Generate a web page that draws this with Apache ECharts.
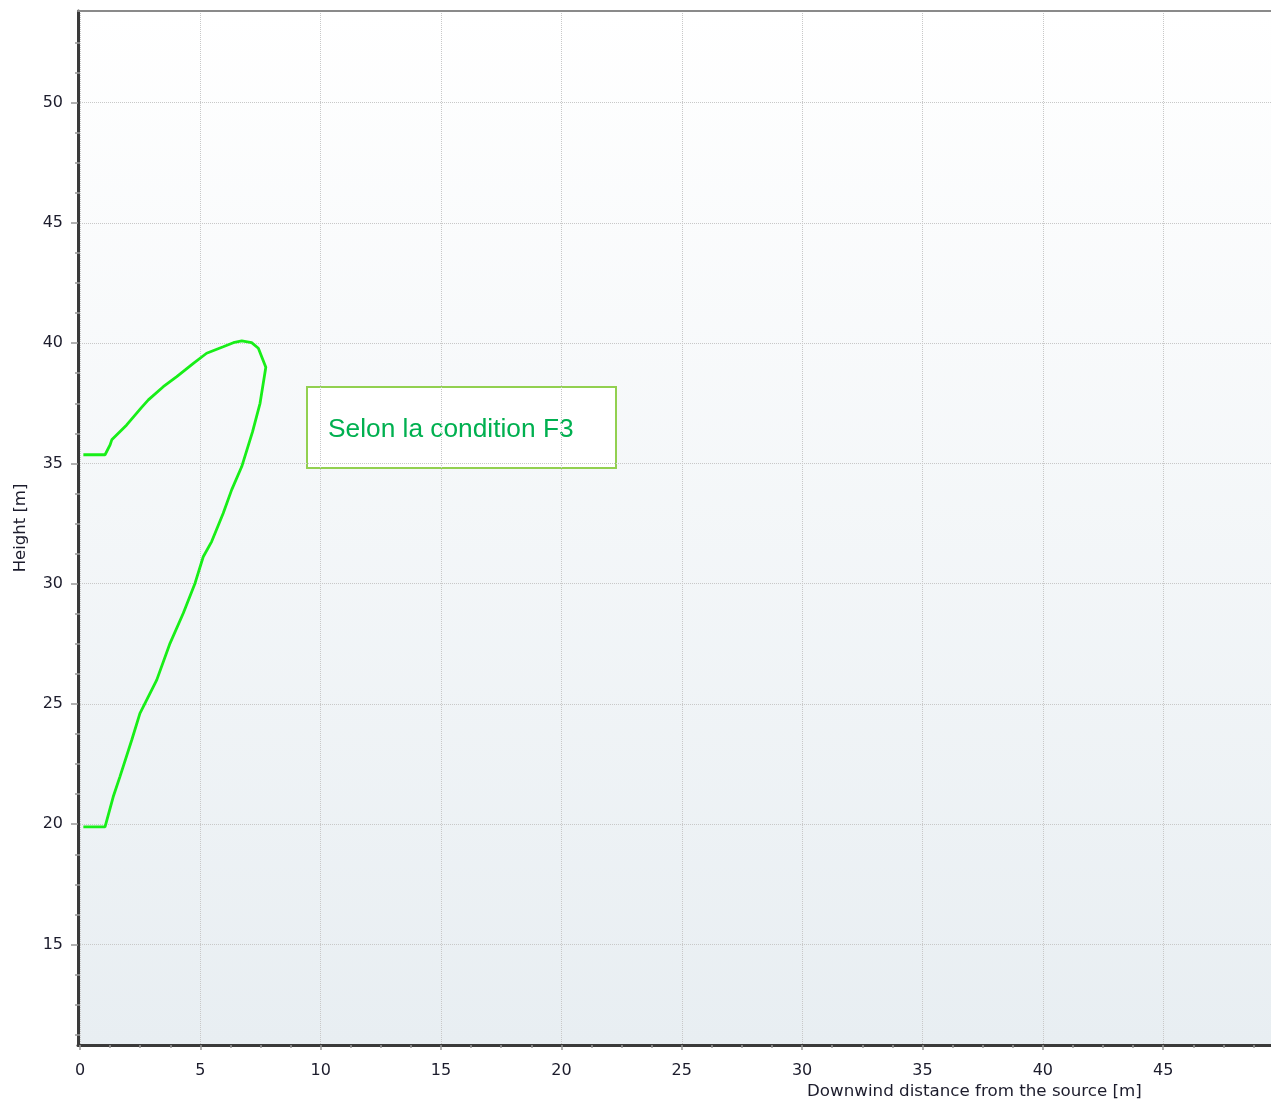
<!DOCTYPE html>
<html>
<head>
<meta charset="utf-8">
<script src="https://cdn.jsdelivr.net/npm/echarts@6/dist/echarts.min.js"></script>
<style>
html,body{margin:0;padding:0;background:#fff;}
#chart{width:1271px;height:1104px;}
</style>
</head>
<body>
<div id="chart"></div>
<script>
// ---- data ----
const plumeX = [0.14, 1.04, 1.25, 1.32, 1.94, 2.56, 2.84, 3.46, 4.02, 4.71, 5.26, 5.95, 6.37, 6.72, 7.13, 7.41, 7.72,
                7.48, 7.17, 6.72, 6.30, 5.95, 5.47, 5.12, 4.78, 4.29, 3.74, 3.19, 2.84, 2.49, 2.15, 1.66, 1.38, 1.04, 0.14];
const plumeY = [35.36, 35.36, 35.77, 35.98, 36.60, 37.33, 37.64, 38.19, 38.61, 39.16, 39.58, 39.85, 40.02, 40.09, 40.02, 39.79, 39.00,
                37.50, 36.32, 34.87, 33.90, 32.93, 31.75, 31.12, 30.02, 28.77, 27.52, 26.00, 25.30, 24.61, 23.50, 21.98, 21.14, 19.89, 19.89];
const xTickValues = [0, 5, 10, 15, 20, 25, 30, 35, 40, 45];
const yTickValues = [15, 20, 25, 30, 35, 40, 45, 50];
const xMinorValues = [1.25, 2.5, 3.75, 6.25, 7.5, 8.75, 11.25, 12.5, 13.75, 16.25, 17.5, 18.75, 21.25, 22.5, 23.75,
                      26.25, 27.5, 28.75, 31.25, 32.5, 33.75, 36.25, 37.5, 38.75, 41.25, 42.5, 43.75, 46.25, 47.5, 48.75];
const yMinorValues = [11.25, 12.5, 13.75, 16.25, 17.5, 18.75, 21.25, 22.5, 23.75, 26.25, 27.5, 28.75, 31.25, 32.5, 33.75,
                      36.25, 37.5, 38.75, 41.25, 42.5, 43.75, 46.25, 47.5, 48.75, 51.25, 52.5];
const xTitle = 'Downwind distance from the source [m]';
const yTitle = 'Height [m]';
const noteText = 'Selon la condition F3';

const X_MIN = -0.083, X_MAX = 49.48, Y_MIN = 10.82, Y_MAX = 53.81;

const chart = echarts.init(document.getElementById('chart'), null, {renderer: 'canvas'});
const FONT = 'DejaVu Sans';
const labelColor = '#1c1c2c';

const option = {
  animation: false,
  backgroundColor: '#ffffff',
  grid: {
    left: 78, top: 11, right: 0, bottom: 59,
    show: true,
    borderWidth: 0,
    backgroundColor: {
      type: 'linear', x: 0, y: 0, x2: 0, y2: 1,
      colorStops: [{offset: 0, color: '#ffffff'}, {offset: 1, color: '#e8eef2'}]
    }
  },
  xAxis: [{
    type: 'value', min: X_MIN, max: X_MAX, position: 'bottom',
    axisLine: {show: true, onZero: false, lineStyle: {color: '#3a3a3a', width: 3}},
    axisTick: {show: true, customValues: xTickValues, length: 5, lineStyle: {color: '#999', width: 1.5}},
    axisLabel: {customValues: xTickValues, margin: 18, fontFamily: FONT, fontSize: 16, color: labelColor},
    splitLine: {show: true, lineStyle: {color: '#c8c8c8', width: 1, type: [1, 1]}}
  }, {
    type: 'value', min: X_MIN, max: X_MAX, position: 'bottom',
    axisLine: {show: false},
    axisTick: {show: true, customValues: xMinorValues, length: 3, lineStyle: {color: '#999', width: 1.5}},
    axisLabel: {show: false},
    splitLine: {show: false}
  }, {
    type: 'value', min: X_MIN, max: X_MAX, position: 'top',
    axisLine: {show: true, onZero: false, lineStyle: {color: '#8a8a8a', width: 2}},
    axisTick: {show: false},
    axisLabel: {show: false},
    splitLine: {show: false}
  }],
  yAxis: [{
    type: 'value', min: Y_MIN, max: Y_MAX, position: 'left',
    name: yTitle, nameLocation: 'middle', nameGap: 49,
    nameTextStyle: {fontFamily: FONT, fontSize: 16.5, color: labelColor},
    axisLine: {show: true, onZero: false, lineStyle: {color: '#3a3a3a', width: 3}},
    axisTick: {show: true, customValues: yTickValues, length: 7, lineStyle: {color: '#999', width: 1.5}},
    axisLabel: {customValues: yTickValues, margin: 15, fontFamily: FONT, fontSize: 16, color: labelColor},
    splitLine: {show: true, lineStyle: {color: '#c8c8c8', width: 1, type: [1, 1]}}
  }, {
    type: 'value', min: Y_MIN, max: Y_MAX, position: 'left',
    axisLine: {show: false},
    axisTick: {show: true, customValues: yMinorValues, length: 5, lineStyle: {color: '#999', width: 1.5}},
    axisLabel: {show: false},
    splitLine: {show: false}
  }],
  series: [{
    type: 'line',
    xAxisIndex: 0, yAxisIndex: 0,
    data: plumeX.map((x, i) => [x, plumeY[i]]),
    showSymbol: false,
    symbol: 'none',
    lineStyle: {color: '#18ee18', width: 2.8},
    clip: true
  }],
  graphic: [{
    type: 'group', left: 306, top: 386,
    children: [{
      type: 'rect', shape: {x: 0, y: 0, width: 309, height: 81},
      style: {fill: '#ffffff', stroke: '#92d050', lineWidth: 2}
    }, {
      type: 'text', x: 21, y: 43,
      style: {text: noteText, fill: '#00b050', font: '26.3px "Liberation Sans", Arial, sans-serif', verticalAlign: 'middle', textAlign: 'left'}
    }]
  }, {
    type: 'text', left: 807, top: 1083,
    style: {text: xTitle, fill: labelColor, font: '16.7px "DejaVu Sans"'}
  }]
};
chart.setOption(option);
</script>
</body>
</html>
